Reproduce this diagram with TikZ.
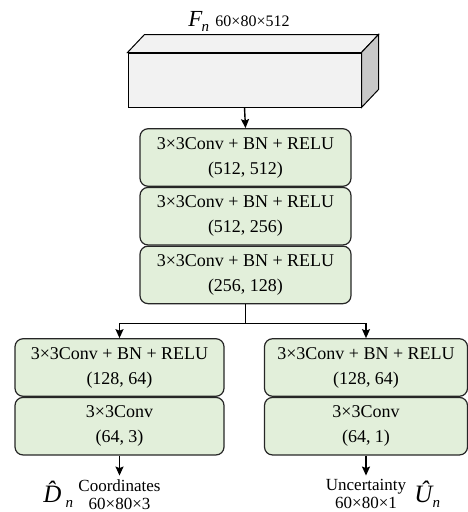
\documentclass[tikz,border=0pt]{standalone}
\usepackage{fontspec}
\setmainfont{Liberation Serif}
\usetikzlibrary{arrows.meta,positioning,calc}
\definecolor{blockgreen}{HTML}{E2EFDA}
\definecolor{cubefront}{HTML}{F2F2F2}
\definecolor{cubeside}{HTML}{C8C8C8}
\tikzset{
  layer/.style={draw=black!85, fill=blockgreen, rounded corners=8pt, line width=1.2pt, align=center,
    minimum height=57.5pt, inner sep=0pt, font=\fontsize{18}{25}\selectfont},
  flow/.style={line width=1.4pt, -{Stealth[length=9pt,width=8pt,inset=1.5pt]}},
  outlbl/.style={align=center, inner sep=0pt, outer sep=4pt, font=\fontsize{17}{18}\selectfont},
  symlbl/.style={inner sep=0pt, font=\fontsize{25}{25}\selectfont},
}

\begin{document}
\begin{tikzpicture}[x=1pt,y=-1pt]
\useasboundingbox (0,0) rectangle (468,512);
% input feature map
\node[draw, fill=cubefront, line width=1pt, minimum width=233pt, minimum height=54pt, inner sep=0pt] (feat) at (244.5,80) {};
\draw[fill=cubefront, line width=1pt] (feat.north west) -- ++(17,-18) -- ($(feat.north east)+(17,-18)$) -- (feat.north east) -- cycle;
\draw[fill=cubeside, line width=1pt] (feat.north east) -- ++(17,-18) -- ($(feat.south east)+(17,-18)$) -- (feat.south east) -- cycle;
\node[font=\fontsize{16}{20}\selectfont, inner sep=0pt] (fdim) at (252.5,21) {60×80×512};
\node[symlbl, font=\fontsize{23}{23}\selectfont, left=6pt of fdim] (fname) {\textit{F}\kern-1pt\raisebox{-5pt}{\fontsize{15}{15}\selectfont\itshape n}};
% shared layers
\node[layer, minimum width=211pt] (b1) at (245.5,157.5) {3×3Conv + BN + RELU\\(512, 512)};
\node[layer, minimum width=211pt, below=0pt of b1] (b2) {3×3Conv + BN + RELU\\(512, 256)};
\node[layer, minimum width=211pt, below=0pt of b2] (b3) {3×3Conv + BN + RELU\\(256, 128)};
\draw[flow] (feat.south) -- (b1.north);
% two heads
\node[layer, minimum width=209pt] (l1) at (119.5,367.5) {3×3Conv + BN + RELU\\(128, 64)};
\node[layer, minimum width=209pt, below=0pt of l1] (l2) {3×3Conv\\(64, 3)};
\node[layer, minimum width=203pt] (r1) at (366,367.5) {3×3Conv + BN + RELU\\(128, 64)};
\node[layer, minimum width=203pt, below=0pt of r1] (r2) {3×3Conv\\(64, 1)};
\coordinate (split) at ($(b3.south)+(0,19)$);
\draw[line width=1.4pt] (b3.south) -- (split);
\draw[flow] (split) -| (l1.north);
\draw[flow] (split) -| (r1.north);
% outputs
\node[outlbl, below=20pt of l2] (dout) {Coordinates\\60×80×3};
\node[outlbl, below=20pt of r2] (uout) {Uncertainty\\60×80×1};
\draw[flow] (l2.south) -- (dout.north);
\draw[flow] (r2.south) -- (uout.north);
\node[symlbl, left=1pt of dout] (dname) {\textit{\^D}\kern-5pt\raisebox{-5pt}{\fontsize{15}{15}\selectfont\itshape n}};
\node[symlbl, right=4pt of uout] (uname) {\textit{\^U}\kern-1pt\raisebox{-5pt}{\fontsize{15}{15}\selectfont\itshape n}};
\end{tikzpicture}
\end{document}
